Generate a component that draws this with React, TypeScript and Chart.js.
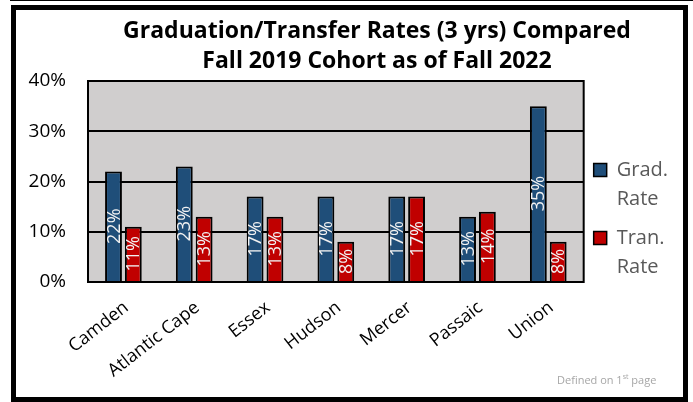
import React, { useEffect, useRef } from 'react';
import { Chart, registerables } from 'chart.js';

Chart.register(...registerables);

const categories = ['Camden', 'Atlantic Cape', 'Essex', 'Hudson', 'Mercer', 'Passaic', 'Union'];
const gradRate = [22, 23, 17, 17, 17, 13, 35];
const tranRate = [11, 13, 13, 8, 17, 14, 8];
const seriesLabels = ['Grad. Rate', 'Tran. Rate'];
const seriesColors = ['#1F4E79', '#C00000'];
const yMin = 0;
const yMax = 40;
const yStep = 10;
const titleLines = ['Graduation/Transfer Rates (3 yrs) Compared', 'Fall 2019 Cohort as of Fall 2022'];

const FONT = "'Open Sans', sans-serif";
const CANVAS_W = 734;
const CANVAS_H = 402;

const plotAreaPlugin = {
  id: 'plotArea',
  beforeDraw(chart: any) {
    const { ctx, chartArea: a } = chart;
    ctx.save();
    ctx.fillStyle = '#D0CECE';
    ctx.fillRect(a.left, a.top, a.right - a.left, a.bottom - a.top);
    ctx.restore();
  },
  afterDatasetsDraw(chart: any) {
    const { ctx, chartArea: a } = chart;
    ctx.save();
    ctx.strokeStyle = '#000';
    ctx.lineWidth = 2;
    ctx.strokeRect(a.left, a.top, a.right - a.left, a.bottom - a.top);
    ctx.restore();
  },
};

const barLabelPlugin = {
  id: 'barLabels',
  afterDatasetsDraw(chart: any) {
    const { ctx } = chart;
    chart.data.datasets.forEach((ds: any, di: number) => {
      const meta = chart.getDatasetMeta(di);
      meta.data.forEach((el: any, i: number) => {
        const v = ds.data[i];
        const cy = (el.y + el.base) / 2;
        ctx.save();
        ctx.translate(el.x, cy);
        ctx.rotate(-Math.PI / 2);
        ctx.fillStyle = '#F2F2F2';
        ctx.font = `18px ${FONT}`;
        ctx.textAlign = 'center';
        ctx.textBaseline = 'middle';
        ctx.fillText(`${v}%`, 0, 1);
        ctx.restore();
      });
    });
  },
};

function ChartCanvas() {
  const ref = useRef<HTMLCanvasElement | null>(null);
  useEffect(() => {
    if (!ref.current) return;
    const chart = new Chart(ref.current, {
      type: 'bar',
      data: {
        labels: categories,
        datasets: [
          {
            label: seriesLabels[0],
            data: gradRate,
            backgroundColor: seriesColors[0],
            borderColor: '#000',
            borderWidth: 2,
            barPercentage: 0.85,
            categoryPercentage: 0.56,
          },
          {
            label: seriesLabels[1],
            data: tranRate,
            backgroundColor: seriesColors[1],
            borderColor: '#000',
            borderWidth: 2,
            barPercentage: 0.85,
            categoryPercentage: 0.56,
          },
        ],
      },
      options: {
        responsive: false,
        animation: false,
        devicePixelRatio: 1,
        layout: { padding: { left: 20, right: 0, top: 0, bottom: 0 } },
        plugins: {
          title: {
            display: true,
            text: titleLines,
            color: '#000',
            font: { family: FONT, size: 23, weight: 'bold', lineHeight: '30px' },
            padding: { top: 16, bottom: 5 },
          },
          legend: {
            display: true,
            position: 'right',
            align: 'start',
            title: { display: true, text: ' ', padding: 0, font: { size: 10, lineHeight: '150px' } },
            labels: {
              boxWidth: 13,
              boxHeight: 13,
              padding: 10,
              color: '#595959',
              font: { family: FONT, size: 20, lineHeight: '29px' },
              generateLabels(chart: any) {
                return chart.data.datasets.map((ds: any, i: number) => ({
                  text: String(ds.label).split(' '),
                  fillStyle: ds.backgroundColor,
                  strokeStyle: '#000',
                  lineWidth: 1.5,
                  fontColor: '#595959',
                  hidden: false,
                  datasetIndex: i,
                }));
              },
            },
          },
          tooltip: { enabled: false },
        },
        scales: {
          x: {
            grid: { display: false, drawTicks: false },
            border: { display: false },
            ticks: {
              color: '#000',
              font: { family: FONT, size: 18 },
              maxRotation: 38,
              minRotation: 38,
              padding: 15,
              labelOffset: 3,
            },
            afterFit(scale: any) {
              scale.height = 120;
            },
          },
          y: {
            min: yMin,
            max: yMax,
            grid: { color: '#000', lineWidth: 2, drawTicks: false },
            border: { display: false },
            ticks: {
              stepSize: yStep,
              color: '#000',
              padding: 22,
              font: { family: FONT, size: 19 },
              callback: (v: any) => `${v}%`,
            },
            afterFit(scale: any) {
              scale.width = 68;
            },
          },
          spacer: {
            type: 'linear',
            position: 'right',
            weight: 2000,
            display: true,
            grid: { display: false, drawTicks: false },
            border: { display: false },
            ticks: { display: false },
            afterFit(scale: any) {
              scale.width = 56;
            },
          },
        },
      },
      plugins: [plotAreaPlugin, barLabelPlugin],
    } as any);
    return () => chart.destroy();
  }, []);
  return (
    <canvas
      ref={ref}
      width={CANVAS_W}
      height={CANVAS_H}
      style={{ width: CANVAS_W, height: CANVAS_H, display: 'block' }}
    />
  );
}

export default function App() {
  return (
    <div style={{ position: 'absolute', left: 0, top: 0, width: 693, height: 402, overflow: 'hidden', background: '#fff' }}>
      <ChartCanvas />
      <div style={{ position: 'absolute', left: 10, top: 0, width: 683, height: 1, background: '#000' }} />
      <div
        style={{
          position: 'absolute',
          left: 11,
          top: 5,
          width: 677,
          height: 397,
          boxSizing: 'border-box',
          border: '5px solid #000',
          pointerEvents: 'none',
        }}
      />
      <div
        style={{
          position: 'absolute',
          left: 557,
          top: 372,
          fontFamily: FONT,
          fontSize: 11,
          color: '#A6A6A6',
          whiteSpace: 'nowrap',
          lineHeight: '16px',
        }}
      >
        Defined on 1<sup style={{ fontSize: 7, verticalAlign: 'super', lineHeight: 0 }}>st</sup> page
      </div>
    </div>
  );
}
